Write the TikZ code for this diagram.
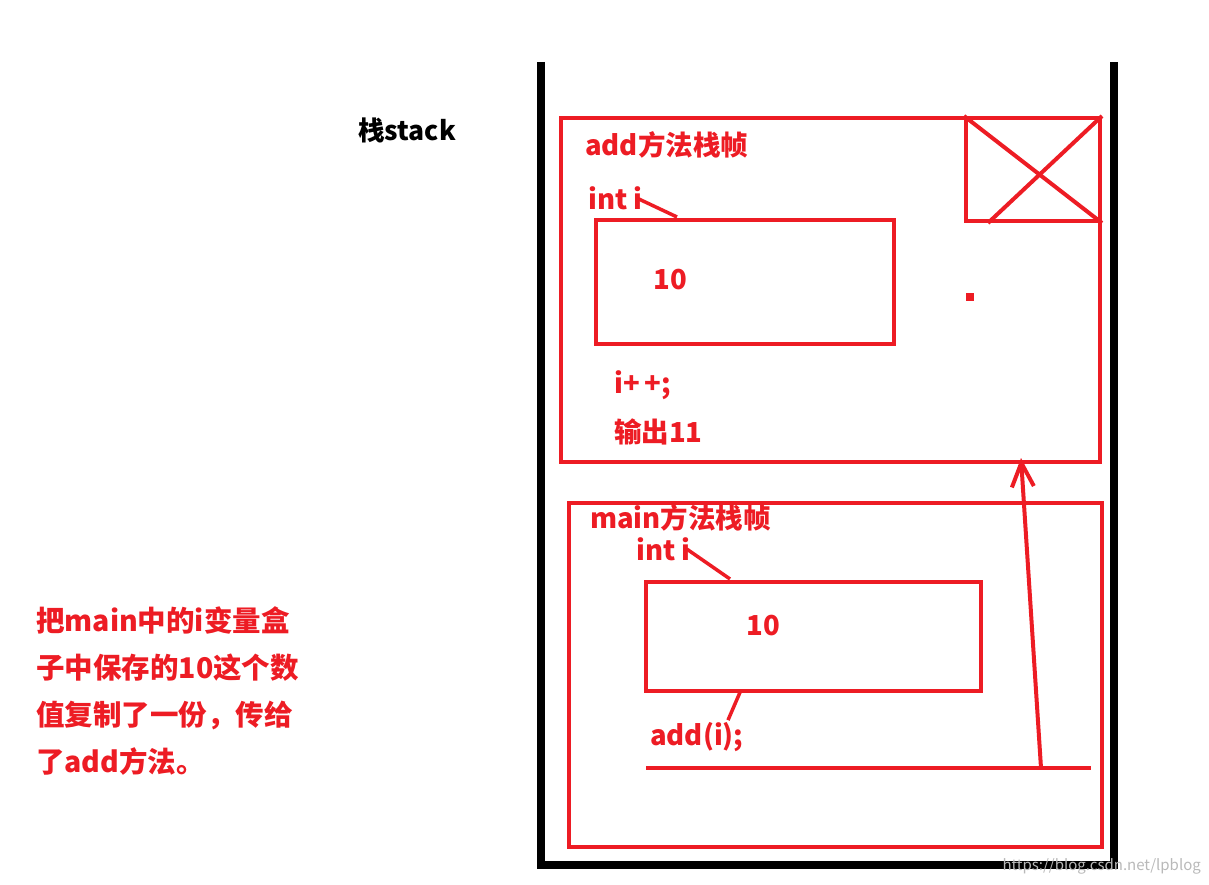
\documentclass[tikz,border=0pt]{standalone}
\usepackage{fontspec}
\setmainfont{Noto Sans CJK SC}
\usetikzlibrary{arrows.meta}
\definecolor{huahong}{HTML}{ED1C24}
\tikzset{
  zhen/.style={draw=huahong, line width=4pt, anchor=north west, inner sep=0pt},
  hongzi/.style={text=huahong, font=\fontsize{27.5}{30}\selectfont\bfseries, anchor=west, inner sep=0pt},
  hongxian/.style={draw=huahong, line width=4pt},
}
\begin{document}
\begin{tikzpicture}[x=1pt,y=-1pt]
    \useasboundingbox (0,0) rectangle (1209,885);
    % 栈
    \draw[line width=8pt] (541,62) -- (541,865) -- (1114,865) -- (1114,62);
    \node[font=\fontsize{26.5}{30}\selectfont\bfseries, anchor=west, inner sep=0pt] (zhan) at (358,130) {栈stack};

    % add方法栈帧
    \node[zhen, minimum width=539pt, minimum height=344pt] (addzhen) at (559,116) {};
    \node[zhen, minimum width=134pt, minimum height=103pt] (chabox) at (964,116) {};
    \draw[hongxian] (chabox.north west) -- (chabox.south east);
    \draw[hongxian] (chabox.north east) -- ([xshift=24pt]chabox.south west);
    \fill[huahong] (966,293) rectangle (974,301);
    \node[hongzi] (addbiaoti) at (585,145) {add方法栈帧};
    \node[hongzi] (addint) at (588,198) {int i};
    \node[zhen, minimum width=298pt, minimum height=124pt] (addbox) at (594,218) {};
    \coordinate (addjian) at (677,217);
    \draw[hongxian, line width=3.5pt] ([xshift=-6pt]addint.east) -- (addjian);
    \node[hongzi, anchor=center] (addzhi) at (670,280) {10};
    \node[hongzi] (jiajia) at (614,385) {i+\,+;};
    \node[hongzi] (shuchu) at (614,432) {输出11};

    % main方法栈帧
    \node[zhen, minimum width=533pt, minimum height=344pt] (mainzhen) at (567,501) {};
    \node[hongzi] (mainbiaoti) at (590,518) {main方法栈帧};
    \node[hongzi] (mainint) at (636,549) {int i};
    \node[zhen, minimum width=335pt, minimum height=109pt] (mainbox) at (644,580) {};
    \coordinate (mainjian) at (730,579);
    \draw[hongxian, line width=3.5pt] ([xshift=-4pt]mainint.east) -- (mainjian);
    \node[hongzi, anchor=center] (mainzhi) at (763,626) {10};
    \node[hongzi] (diaoyong) at (650,737) {add(i);};
    \coordinate (xiajian) at (741,690);
    \draw[hongxian, line width=3.5pt] (xiajian) -- ([xshift=78pt,yshift=2pt]diaoyong.north west);

    % 调用线
    \coordinate (xianzuo) at (646,768);
    \coordinate (xianyou) at (1091,768);
    \coordinate (qidian) at (1041,768);
    \coordinate (fanhui) at (1021,458);
    \draw[hongxian] (xianzuo) -- (xianyou);
    \draw[hongxian, -{Straight Barb[length=24pt,width=22pt]}] (qidian) -- (fanhui);

    % 说明
    \node[hongzi, font=\fontsize{28.5}{47}\selectfont\bfseries, align=left, anchor=north west] (shuoming) at (36,606)
        {把main中的i变量盒\\子中保存的10这个数\\值复制了一份，传给\\了add方法。};

    \node[text=gray!55, font=\fontsize{15}{18}\selectfont, anchor=east, inner sep=0pt] (shuiyin) at (1201,866) {https://blog.csdn.net/lpblog};
\end{tikzpicture}
\end{document}
